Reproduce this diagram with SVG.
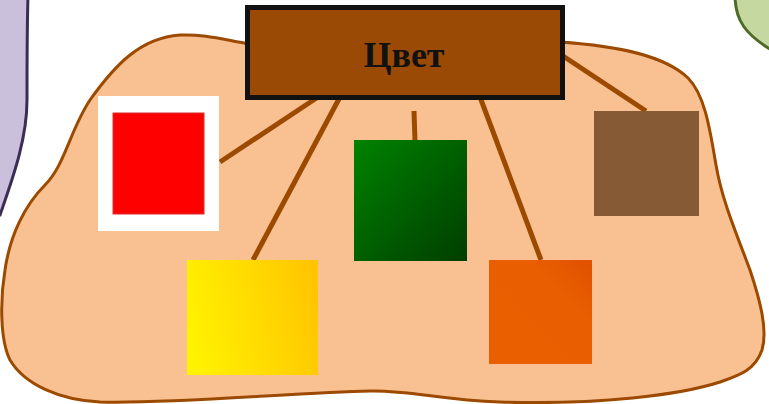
<svg xmlns="http://www.w3.org/2000/svg" width="769" height="404" viewBox="0 0 769 404">
<defs>
<style>
.conn{stroke:#9c4a00;stroke-width:5;fill:none}
.title{font-family:"Liberation Serif","Times New Roman",serif;font-weight:bold;font-size:36px;fill:#111}
</style>
<linearGradient id="gGreen" x1="0" y1="0" x2="1" y2="1">
<stop offset="0" stop-color="#008200"/><stop offset="1" stop-color="#003e00"/>
</linearGradient>
<linearGradient id="gYellow" x1="0" y1="0.6" x2="1" y2="0.4">
<stop offset="0" stop-color="#fff200"/><stop offset="1" stop-color="#ffc600"/>
</linearGradient>
<linearGradient id="gOrange" x1="0" y1="1" x2="1" y2="0">
<stop offset="0" stop-color="#ea6000"/><stop offset="0.7" stop-color="#e95e00"/><stop offset="1" stop-color="#e05000"/>
</linearGradient>
</defs>
<rect width="769" height="404" fill="#ffffff"/>
<g id="bg-left">
<path d="M -5 -5 L 28 -5 C 27 30, 27 60, 27 100 C 27 140, 12 180, 0 215 L -5 215 Z" fill="#cbc0dc" stroke="#3b2d55" stroke-width="3"/>
</g>
<g id="bg-right">
<path d="M 735 -5 C 735 20, 745 35, 775 52 L 775 -5 Z" fill="#c5d8a0" stroke="#4f6b28" stroke-width="3"/>
</g>
<g id="blob">
<path d="M 180 35 C 205 34, 225 40, 250 44 L 560 42 C 620 46, 665 56, 688 78 C 705 95, 710 130, 716 165 C 722 200, 735 230, 750 270 C 760 300, 768 330, 762 350 C 755 370, 740 375, 720 382 C 680 395, 600 405, 500 402 C 440 400, 410 390, 370 391 C 300 392, 180 404, 100 402 C 60 400, 25 385, 10 360 C 0 340, 0 300, 5 270 C 10 235, 25 205, 45 185 C 65 165, 70 130, 90 100 C 115 65, 140 38, 180 35 Z" fill="#f9c192" stroke="#9c4a00" stroke-width="3"/>
</g>
<g id="connectors">
<line class="conn" x1="318" y1="97" x2="220" y2="162"/>
<line class="conn" x1="340" y1="97" x2="253" y2="260"/>
<line class="conn" x1="414" y1="111" x2="415" y2="141"/>
<line class="conn" x1="480" y1="97" x2="541" y2="260"/>
<line class="conn" x1="560" y1="54" x2="646" y2="111"/>
</g>
<g id="title">
<rect x="247.5" y="7.5" width="315" height="90" fill="#9b4a05" stroke="#111111" stroke-width="5"/>
<text class="title" x="404" y="67" text-anchor="middle">Цвет</text>
</g>
<g id="red">
<rect x="98" y="96" width="121" height="135" fill="#ffffff"/>
<rect x="113" y="113" width="91" height="101" fill="#ff0000" stroke="#d83030" stroke-width="1"/>
</g>
<g id="yellow">
<rect x="187" y="260" width="131" height="115" fill="url(#gYellow)"/>
</g>
<g id="green">
<rect x="354" y="140" width="113" height="121" fill="url(#gGreen)"/>
</g>
<g id="orange">
<rect x="489" y="260" width="103" height="104" fill="url(#gOrange)"/>
</g>
<g id="brown">
<rect x="594" y="111" width="105" height="105" fill="#865a35"/>
</g>
</svg>
